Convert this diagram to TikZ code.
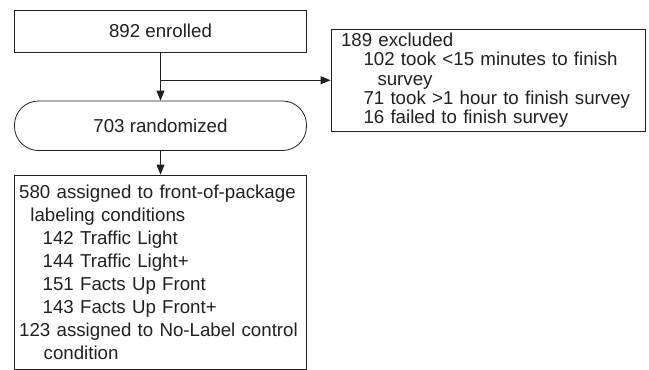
\documentclass[tikz,border=0pt]{standalone}
\usepackage{fontspec}
\setmainfont[Ligatures=NoCommon]{Liberation Sans}
\usetikzlibrary{arrows.meta}
\definecolor{ink}{HTML}{231F20}

\begin{document}
\begin{tikzpicture}[x=1pt,y=-1pt,
  box/.style={draw=ink, line width=0.8pt, text=ink, inner sep=0pt,
    font=\fontsize{18.7}{19.3}\selectfont},
  listbox/.style={box, align=left},
  link/.style={draw=ink, line width=0.8pt, -{Triangle[length=10pt,width=8pt]}},
]
\useasboundingbox (0,0) rectangle (649,370);

% flow boxes
\node[box, minimum width=292pt, minimum height=42.5pt] (enrolled) at (160.5,31.25) {892 enrolled};
\node[box, rounded corners=24pt, minimum width=292pt, minimum height=49.5pt] (random) at (160.5,125.75) {703 randomized};

\node[listbox, inner xsep=10pt, text width=294pt, minimum height=102.5pt,
      font=\fontsize{18.7}{19.4}\selectfont] (excl) at (488,80.25) {%
189 excluded\\
\hspace*{22.5pt}102 took <15 minutes to finish\\
\hspace*{36.5pt}survey\\
\hspace*{22.5pt}71 took >1 hour to finish survey\\
\hspace*{22.5pt}16 failed to finish survey};

\node[listbox, inner xsep=4.9pt, text width=282.6pt, minimum height=194.3pt,
      font=\fontsize{18.7}{23}\selectfont] (assign) at (160.5,272.15) {%
580 assigned to front-of-package\\
\hspace*{11.2pt}labeling conditions\\
\hspace*{23.5pt}142 Traffic Light\\
\hspace*{23.5pt}144 Traffic Light+\\
\hspace*{23.5pt}151 Facts Up Front\\
\hspace*{23.5pt}143 Facts Up Front+\\
123 assigned to No-Label control\\
\hspace*{24.5pt}condition};

% connectors
\draw[link] (enrolled.south) -- (random.north);
\coordinate (split) at (enrolled.south |- excl.west);
\draw[link] (split) -- (excl.west);
\draw[link] (random.south) -- (assign.north);
\end{tikzpicture}
\end{document}
